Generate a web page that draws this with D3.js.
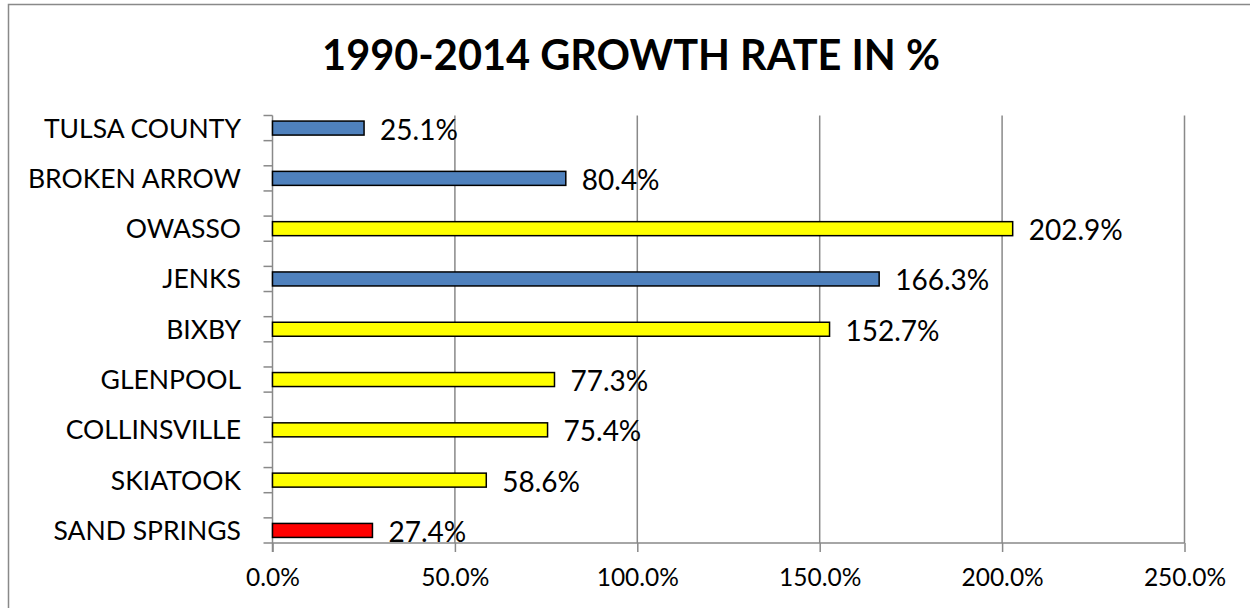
<!DOCTYPE html>
<html>
<head>
<meta charset="utf-8">
<script src="https://cdn.jsdelivr.net/npm/d3@7"></script>
<style>
  body { margin: 0; background: #fff; }
  text { font-family: Lato, "Open Sans", sans-serif; fill: #000; }
</style>
</head>
<body>
<div id="chart"></div>
<script>
// data
var categories = ["TULSA COUNTY", "BROKEN ARROW", "OWASSO", "JENKS", "BIXBY",
                  "GLENPOOL", "COLLINSVILLE", "SKIATOOK", "SAND SPRINGS"];
var growth = [25.1, 80.4, 202.9, 166.3, 152.7, 77.3, 75.4, 58.6, 27.4];
var group = ["county", "county", "fast", "county", "fast", "fast", "fast", "fast", "sand"];
var xTicks = [0, 50, 100, 150, 200, 250];

var width = 1250;
var height = 608;

var svg = d3.select("#chart")
    .append("svg")
    .attr("width", width)
    .attr("height", height);

// chart border (runs off right and bottom edge)
svg.append("rect")
    .attr("x", 8.5)
    .attr("y", 4.5)
    .attr("width", 1300)
    .attr("height", 700)
    .attr("fill", "none")
    .attr("stroke", "#898989")
    .attr("stroke-width", 1.5);

svg.append("text")
    .attr("x", 631)
    .attr("y", 70)
    .attr("text-anchor", "middle")
    .style("font-size", "41.5px")
    .style("font-weight", "bold")
    .text("1990-2014 GROWTH RATE IN %");

var x = d3.scaleLinear()
    .domain([0, 250])
    .range([272.5, 1184.5]);

var y = d3.scalePoint()
    .domain(categories)
    .range([115.5, 543])
    .padding(0.25);

var color = d3.scaleOrdinal()
    .domain(["county", "fast", "sand"])
    .range(["#4F81BD", "#FFFF00", "#FF0000"]);

var yTop = y.range()[0], yBottom = y.range()[1];

// vertical gridlines
svg.selectAll(".grid")
    .data(xTicks.filter(function(d) { return d > 0; }))
    .enter()
    .append("line")
    .attr("x1", function(d) { return x(d); })
    .attr("x2", function(d) { return x(d); })
    .attr("y1", yTop)
    .attr("y2", yBottom)
    .attr("stroke", "#898989")
    .attr("stroke-width", 1.5);

// x axis
var xAxis = d3.axisBottom(x)
    .tickValues(xTicks)
    .tickSize(9)
    .tickFormat(function(d) { return d3.format(".1f")(d) + "%"; });

var gx = svg.append("g")
    .attr("transform", "translate(0," + yBottom + ")")
    .call(xAxis);
gx.select(".domain").attr("stroke", "#898989").attr("stroke-width", 1.5)
    .attr("d", "M" + x(0) + ",0H" + x(250));
gx.selectAll(".tick line").attr("stroke", "#898989").attr("stroke-width", 1.5);
gx.selectAll(".tick text")
    .attr("y", 43)
    .attr("dy", 0)
    .style("font-size", "24.5px")
    .style("font-family", "Lato, sans-serif")
    .attr("fill", "#000");

// y axis line and half-step ticks
svg.append("line")
    .attr("x1", x(0)).attr("x2", x(0))
    .attr("y1", yTop).attr("y2", yBottom + 9)
    .attr("stroke", "#898989")
    .attr("stroke-width", 1.5);

var step = y.step();
var yTickPos = [];
categories.forEach(function(c) {
    yTickPos.push(y(c) - step / 4);
    yTickPos.push(y(c) + step / 4);
});

svg.selectAll(".ytick")
    .data(yTickPos)
    .enter()
    .append("line")
    .attr("x1", x(0) - 9)
    .attr("x2", x(0))
    .attr("y1", function(d) { return d; })
    .attr("y2", function(d) { return d; })
    .attr("stroke", "#898989")
    .attr("stroke-width", 1.5);

// category labels
svg.selectAll(".cat")
    .data(categories)
    .enter()
    .append("text")
    .attr("x", 241)
    .attr("y", function(d) { return y(d) + 9.5; })
    .attr("text-anchor", "end")
    .style("font-size", "26.5px")
    .text(function(d) { return d; });

// bars
var barH = 14;
svg.selectAll(".bar")
    .data(categories)
    .enter()
    .append("rect")
    .attr("x", x(0))
    .attr("y", function(d) { return y(d) - barH / 2; })
    .attr("width", function(d, i) { return x(growth[i]) - x(0); })
    .attr("height", barH)
    .attr("fill", function(d, i) { return color(group[i]); })
    .attr("stroke", "#000")
    .attr("stroke-width", 1.5);

// value labels
svg.selectAll(".val")
    .data(categories)
    .enter()
    .append("text")
    .attr("x", function(d, i) { return x(growth[i]) + 16; })
    .attr("y", function(d) { return y(d) + 11.5; })
    .style("font-size", "28px")
    .text(function(d, i) { return d3.format(".1f")(growth[i]) + "%"; });
</script>
</body>
</html>
